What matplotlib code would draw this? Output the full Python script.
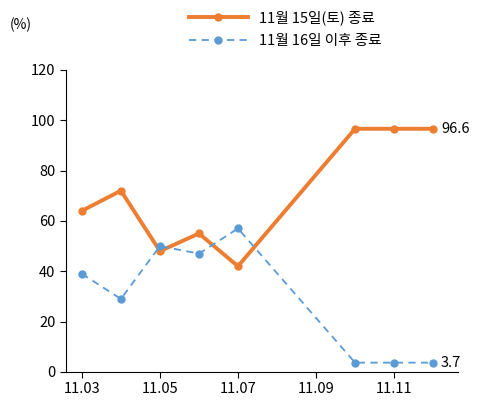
import matplotlib
matplotlib.use("Agg")
import matplotlib.pyplot as plt

plt.rcParams['font.family'] = ['Noto Sans CJK KR', 'DejaVu Sans']

days = [3, 4, 5, 6, 7, 10, 11, 12]
tick_days = [3, 5, 7, 9, 11]
tick_labels = ["11.03", "11.05", "11.07", "11.09", "11.11"]
s1_name = "11월 15일(토) 종료"
s2_name = "11월 16일 이후 종료"
s1 = [64, 72, 48, 55, 42, 96.6, 96.6, 96.6]
s2 = [39, 29, 50, 47, 57, 3.7, 3.7, 3.7]

fig = plt.figure(figsize=(4.99, 4.11), dpi=100)
ax = fig.add_axes([0.132, 0.095, 0.786, 0.735])
ax.plot(days, s1, color="#ED7D31", lw=2.8, marker="o", ms=5, label=s1_name)
ax.plot(days, s2, color="#5B9BD5", lw=1.3, ls=(0, (4, 3)), marker="o", ms=5, label=s2_name)
ax.set_ylim(0, 120)
ax.set_yticks(range(0, 121, 20))
ax.set_xlim(2.59, 12.64)
ax.set_xticks(tick_days)
ax.set_xticklabels(tick_labels)
ax.tick_params(labelsize=10.5, length=4, direction="out")
for s in ["top", "right"]:
    ax.spines[s].set_visible(False)
ax.text(12.2, s1[-1], "96.6", va="center", fontsize=10.5)
ax.text(12.2, s2[-1], "3.7", va="center", fontsize=10.5)
fig.text(0.02, 0.93, "(%)", fontsize=10)
ax.legend(loc="lower center", bbox_to_anchor=(0.56, 1.03), frameon=False, fontsize=10.5,
          handlelength=4, labelspacing=0.6)
fig.savefig("out.png", dpi=100)
